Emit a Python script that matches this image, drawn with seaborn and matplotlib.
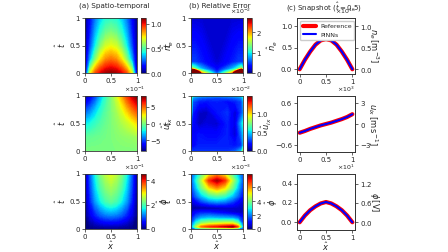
import numpy as np
import matplotlib
matplotlib.use("Agg")
import matplotlib.pyplot as plt
import seaborn as sns
from matplotlib.cm import ScalarMappable
from matplotlib.colors import Normalize

# spatio-temporal fields (column a), rows are t, columns are x
x_grid = [0.0, 0.1, 0.2, 0.3, 0.4, 0.5, 0.6, 0.7, 0.8, 0.9, 1.0]
t_grid = [0.0, 0.25, 0.5, 0.75, 1.0]

ne_field = [
    [0.00, 0.70, 0.92, 1.02, 1.08, 1.10, 1.08, 1.02, 0.92, 0.70, 0.00],
    [0.00, 0.33, 0.58, 0.75, 0.85, 0.88, 0.85, 0.75, 0.58, 0.33, 0.00],
    [0.00, 0.22, 0.41, 0.57, 0.67, 0.70, 0.67, 0.57, 0.41, 0.22, 0.00],
    [0.00, 0.17, 0.33, 0.45, 0.53, 0.56, 0.53, 0.45, 0.33, 0.17, 0.00],
    [0.00, 0.14, 0.27, 0.37, 0.43, 0.45, 0.43, 0.37, 0.27, 0.14, 0.00],
]
uix_field = [
    [0.00, 0.00, 0.00, 0.00, 0.00, 0.00, 0.00, 0.00, 0.00, 0.00, 0.00],
    [-0.06, -0.05, -0.04, -0.03, -0.015, 0.0, 0.015, 0.03, 0.04, 0.05, 0.07],
    [-0.25, -0.20, -0.14, -0.09, -0.04, 0.0, 0.04, 0.09, 0.14, 0.20, 0.28],
    [-0.52, -0.42, -0.30, -0.18, -0.08, 0.0, 0.08, 0.19, 0.32, 0.45, 0.56],
    [-0.80, -0.68, -0.52, -0.33, -0.15, 0.0, 0.16, 0.35, 0.55, 0.70, 0.82],
]
phi_field = [
    [0.00, 0.00, 0.00, 0.00, 0.00, 0.00, 0.00, 0.00, 0.00, 0.00, 0.00],
    [0.00, 0.04, 0.07, 0.095, 0.11, 0.115, 0.11, 0.095, 0.07, 0.04, 0.00],
    [0.00, 0.07, 0.125, 0.165, 0.195, 0.21, 0.195, 0.165, 0.125, 0.07, 0.00],
    [0.00, 0.085, 0.15, 0.20, 0.23, 0.245, 0.23, 0.20, 0.15, 0.085, 0.00],
    [0.00, 0.095, 0.17, 0.225, 0.26, 0.28, 0.26, 0.225, 0.17, 0.095, 0.00],
]

# relative error fields (column b)
err_ne_x = [0.0, 0.03, 0.08, 0.2, 0.5, 0.8, 0.92, 0.97, 1.0]
err_ne_t = [0.0, 0.03, 0.08, 0.2, 1.0]
err_ne = [
    [0.03, 0.12, 0.06, 0.02, 0.005, 0.02, 0.06, 0.15, 0.05],
    [0.02, 0.06, 0.035, 0.015, 0.004, 0.015, 0.035, 0.07, 0.03],
    [0.01, 0.015, 0.012, 0.008, 0.003, 0.008, 0.012, 0.015, 0.01],
    [0.005, 0.005, 0.005, 0.004, 0.002, 0.004, 0.005, 0.005, 0.005],
    [0.002, 0.002, 0.002, 0.002, 0.002, 0.002, 0.002, 0.002, 0.002],
]

err_uix_x = [0.0, 0.03, 0.15, 0.3, 0.5, 0.7, 0.85, 0.97, 1.0]
err_uix_t = [0.0, 0.1, 0.3, 0.5, 0.7, 0.9, 0.97, 1.0]
err_uix = [
    [0.0030, 0.0025, 0.0025, 0.0025, 0.0025, 0.0025, 0.0030, 0.0045, 0.0075],
    [0.0020, 0.0015, 0.0022, 0.0022, 0.0022, 0.0022, 0.0020, 0.0025, 0.0040],
    [0.0020, 0.0015, 0.0020, 0.0018, 0.0018, 0.0022, 0.0010, 0.0035, 0.0045],
    [0.0030, 0.0018, 0.0008, 0.0012, 0.0010, 0.0022, 0.0012, 0.0045, 0.0055],
    [0.0065, 0.0022, 0.0010, 0.0008, 0.0020, 0.0025, 0.0010, 0.0028, 0.0035],
    [0.0075, 0.0030, 0.0022, 0.0020, 0.0022, 0.0018, 0.0022, 0.0028, 0.0040],
    [0.0080, 0.0040, 0.0032, 0.0030, 0.0028, 0.0030, 0.0032, 0.0038, 0.0050],
    [0.0080, 0.0055, 0.0045, 0.0042, 0.0040, 0.0042, 0.0045, 0.0050, 0.0060],
]

err_phi_x = [0.0, 0.1, 0.2, 0.35, 0.5, 0.65, 0.8, 0.9, 1.0]
err_phi_t = [0.0, 0.04, 0.1, 0.2, 0.3, 0.38, 0.5, 0.6, 0.75, 0.88, 1.0]
err_phi = [
    [0.0015, 0.0020, 0.0025, 0.0025, 0.0025, 0.0025, 0.0025, 0.0022, 0.0015],
    [0.0018, 0.0045, 0.0062, 0.0068, 0.0070, 0.0074, 0.0078, 0.0065, 0.0020],
    [0.0015, 0.0032, 0.0042, 0.0046, 0.0048, 0.0050, 0.0050, 0.0040, 0.0015],
    [0.0010, 0.0018, 0.0023, 0.0025, 0.0024, 0.0023, 0.0022, 0.0018, 0.0010],
    [0.0006, 0.0010, 0.0012, 0.0012, 0.0010, 0.0008, 0.0006, 0.0005, 0.0004],
    [0.0002, 0.0002, 0.0002, 0.0002, 0.0003, 0.0004, 0.0005, 0.0005, 0.0004],
    [0.0006, 0.0010, 0.0015, 0.0020, 0.0022, 0.0020, 0.0015, 0.0010, 0.0006],
    [0.0010, 0.0018, 0.0025, 0.0033, 0.0036, 0.0033, 0.0025, 0.0018, 0.0010],
    [0.0013, 0.0025, 0.0038, 0.0053, 0.0060, 0.0053, 0.0038, 0.0025, 0.0013],
    [0.0015, 0.0030, 0.0045, 0.0068, 0.0076, 0.0068, 0.0045, 0.0030, 0.0015],
    [0.0015, 0.0025, 0.0035, 0.0050, 0.0058, 0.0050, 0.0035, 0.0025, 0.0015],
]

# snapshot at t = 0.5 (column c)
x_snap = [0.0, 0.1, 0.2, 0.3, 0.4, 0.5, 0.6, 0.7, 0.8, 0.9, 1.0]
ne_ref = [0.00, 0.22, 0.41, 0.57, 0.67, 0.70, 0.67, 0.57, 0.41, 0.22, 0.00]
ne_pinn = [0.00, 0.22, 0.41, 0.57, 0.67, 0.70, 0.67, 0.57, 0.41, 0.22, 0.00]
uix_ref = [-0.25, -0.20, -0.14, -0.09, -0.04, 0.0, 0.04, 0.09, 0.14, 0.20, 0.28]
uix_pinn = [-0.25, -0.20, -0.14, -0.09, -0.04, 0.0, 0.04, 0.09, 0.14, 0.20, 0.28]
phi_ref = [0.0, 0.07, 0.125, 0.165, 0.195, 0.21, 0.195, 0.165, 0.125, 0.07, 0.0]
phi_pinn = [0.0, 0.07, 0.125, 0.165, 0.195, 0.21, 0.195, 0.165, 0.125, 0.07, 0.0]

# reference scales for the dimensional right axes
n0, u0, phi0 = 1e16, 5e3, 30.0

sns.set_style("ticks")
plt.rcParams.update({
    "font.size": 5,
    "axes.linewidth": 0.6,
    "axes.edgecolor": "0.2",
    "xtick.major.size": 2, "ytick.major.size": 2,
    "xtick.major.width": 0.5, "ytick.major.width": 0.5,
    "xtick.major.pad": 1.5, "ytick.major.pad": 1.5,
    "xtick.labelsize": 5, "ytick.labelsize": 5,
    "axes.labelsize": 6, "axes.labelpad": 1.5,
})

W, H = 448, 252
fig = plt.figure(figsize=(W / 100, H / 100), dpi=100)


def box(x0, top, w, h):
    return [x0 / W, 1 - (top + h) / H, w / W, h / H]


row_tops = [18, 96, 174]
rows = [
    dict(field=ne_field, lim=(0, 1.12), cb_ticks=[0, 0.5, 1.0], cb_label=r"$\hat{n}_e$",
         err_x=err_ne_x, err_t=err_ne_t, err=err_ne, elim=(0, 0.027), e_ticks=[0, 0.01, 0.02],
         ref=ne_ref, pinn=ne_pinn, ylim=(-0.11, 1.19), yticks=[0.0, 0.5, 1.0],
         ylab=r"$\hat{n}_e$", scale=n0, rlab=r"$n_e\,[\mathrm{m}^{-3}]$"),
    dict(field=uix_field, lim=(-0.82, 0.82), cb_ticks=[-0.5, 0, 0.5], cb_label=r"$\hat{u}_{ix}$",
         err_x=err_uix_x, err_t=err_uix_t, err=err_uix, elim=(0, 0.0145), e_ticks=[0, 0.005, 0.01],
         ref=uix_ref, pinn=uix_pinn, ylim=(-0.8, 0.8), yticks=[-0.6, 0.0, 0.6],
         ylab=r"$\hat{u}_{ix}$", scale=u0, rlab=r"$u_{ix}\,[\mathrm{m\,s}^{-1}]$"),
    dict(field=phi_field, lim=(0, 0.45), cb_ticks=[0, 0.2, 0.4], cb_label=r"$\hat{\phi}$",
         err_x=err_phi_x, err_t=err_phi_t, err=err_phi, elim=(0, 0.0079), e_ticks=[0, 0.002, 0.004, 0.006],
         ref=phi_ref, pinn=phi_pinn, ylim=(-0.08, 0.5), yticks=[0.0, 0.2, 0.4],
         ylab=r"$\hat{\phi}$", scale=phi0, rlab=r"$\phi\,[\mathrm{V}]$"),
]


def field_panel(ax, cax, x, t, z, lim, ticks, label=None, last=False):
    levels = np.linspace(lim[0], lim[1], 121)
    ax.contourf(x, t, np.array(z), levels=levels, cmap="jet", extend="both")
    ax.set_xlim(0, 1)
    ax.set_ylim(0, 1)
    ax.set_xticks([0, 0.5, 1])
    ax.set_xticklabels(["0", "0.5", "1"])
    ax.set_yticks([0, 0.5, 1])
    ax.set_yticklabels(["0", "0.5", "1"])
    ax.set_ylabel(r"$\hat{t}$", labelpad=1)
    if last:
        ax.set_xlabel(r"$\hat{x}$", labelpad=0)
    cb = fig.colorbar(ScalarMappable(Normalize(*lim), cmap="jet"), cax=cax)
    cb.set_ticks(ticks)
    cb.formatter.set_powerlimits((0, 0))
    cb.formatter.set_useMathText(True)
    cb.update_ticks()
    cb.outline.set_linewidth(0.5)
    cax.tick_params(labelsize=5, length=2, width=0.5, pad=1.5)
    cax.yaxis.get_offset_text().set_fontsize(4.5)
    if label:
        cb.set_label(label, fontsize=6, labelpad=-0.5)


for i, r in enumerate(rows):
    top = row_tops[i]
    last = i == 2
    # (a) spatio-temporal
    ax = fig.add_axes(box(85, top, 52, 55))
    cax = fig.add_axes(box(141, top, 4.5, 55))
    field_panel(ax, cax, x_grid, t_grid, r["field"], r["lim"], r["cb_ticks"], r["cb_label"], last)
    # (b) relative error
    ax = fig.add_axes(box(191, top, 52, 55))
    cax = fig.add_axes(box(247, top, 4.5, 55))
    field_panel(ax, cax, r["err_x"], r["err_t"], r["err"], r["elim"], r["e_ticks"], None, last)
    # (c) snapshot
    ax = fig.add_axes(box(297, top, 58, 56))
    sns.lineplot(x=x_snap, y=r["ref"], ax=ax, color="red", linewidth=3, label="Reference", legend=False)
    sns.lineplot(x=x_snap, y=r["pinn"], ax=ax, color="blue", linewidth=1.5, label="PINNs", legend=False)
    ax.set_ylim(*r["ylim"])
    ax.set_yticks(r["yticks"])
    ax.set_xticks([0, 0.5, 1])
    ax.set_xticklabels(["0", "0.5", "1"])
    ax.set_ylabel(r["ylab"], labelpad=1)
    if last:
        ax.set_xlabel(r"$\hat{x}$", labelpad=0)
    if i == 0:
        ax.legend(loc="upper left", fontsize=4.5, handlelength=2.2, borderpad=0.4,
                  labelspacing=0.5, handletextpad=0.6, framealpha=1)
    ax2 = ax.twinx()
    s = r["scale"]
    ax2.set_ylim(r["ylim"][0] * s, r["ylim"][1] * s)
    ax2.set_yticks([v * s for v in r["yticks"]])
    ax2.ticklabel_format(axis="y", style="sci", scilimits=(0, 0), useMathText=True)
    ax2.yaxis.get_offset_text().set_fontsize(4.5)
    ax2.tick_params(labelsize=5, length=2, width=0.5, pad=1.5)
    ax2.set_ylabel(r["rlab"], rotation=270, labelpad=6, fontsize=6)

fig.text(114 / W, 1 - 6 / H, "(a) Spatio-temporal", ha="center", va="center", fontsize=5.2)
fig.text(220 / W, 1 - 6 / H, "(b) Relative Error", ha="center", va="center", fontsize=5.2)
fig.text(324 / W, 1 - 7 / H, r"(c) Snapshot ($\hat{t}=0.5$)", ha="center", va="center", fontsize=5)

fig.savefig("out.png", dpi=100)
